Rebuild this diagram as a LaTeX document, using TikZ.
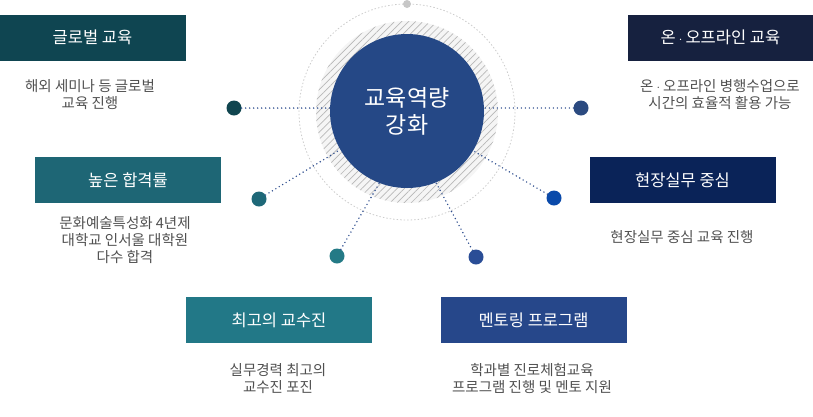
\documentclass[tikz,border=0pt]{standalone}
\usepackage{fontspec}
\setmainfont{Noto Sans CJK KR}
\usetikzlibrary{patterns.meta,calc}
\definecolor{cA}{HTML}{0F4551}
\definecolor{cB}{HTML}{16213F}
\definecolor{cC}{HTML}{1E6675}
\definecolor{cD}{HTML}{0A2358}
\definecolor{cE}{HTML}{227887}
\definecolor{cF}{HTML}{26478A}
\definecolor{dA}{HTML}{10454F}
\definecolor{dB}{HTML}{2B4A80}
\definecolor{dC}{HTML}{1E6878}
\definecolor{dD}{HTML}{0A4AAA}
\definecolor{dE}{HTML}{247A86}
\definecolor{dF}{HTML}{2A4D96}
\definecolor{core}{HTML}{254886}
\definecolor{link}{HTML}{2F4F8F}
\definecolor{desc}{HTML}{505050}
\newcommand{\mdot}{\hspace{2pt}{\fontsize{10}{10}\selectfont·}\hspace{2pt}}
\tikzset{
  titlebox/.style={fill=#1, text=white, minimum width=186pt, minimum height=46pt, inner sep=0pt, font=\fontsize{16.5}{19}\selectfont},
  desctext/.style={text=desc, align=center, inner sep=0pt, font=\fontsize{14.5}{17}\selectfont},
  enddot/.style={circle, fill=#1, minimum size=15pt, inner sep=0pt},
  link/.style={draw=link, line width=1.6pt, line cap=round, dash pattern=on 0pt off 4pt}
}
\begin{document}
\begin{tikzpicture}[x=1pt,y=-1pt]
\useasboundingbox (0,0) rectangle (813,416);
% rings
\draw[draw=black!20, line width=0.8pt, dash pattern=on 1.5pt off 2pt] (407,112) circle (108);
\node[circle, fill=black!22, minimum size=8pt, inner sep=0pt] (topdot) at (407,4) {};
\fill[black!4] (407,112) circle (91);
\fill[pattern={Lines[angle=45,distance=5pt,line width=0.7pt]}, pattern color=black!28] (407,112) circle (91);
\node[circle, fill=core, minimum size=154pt, inner sep=0pt, text=white, align=center,
  font=\fontsize{23}{27}\selectfont] (c) at (407,111) {교육역량\\강화};
% dots
\node[enddot=dA] (dL) at (234,108) {};
\node[enddot=dB] (dR) at (581,108) {};
\node[enddot=dC] (dLL) at (259,199) {};
\node[enddot=dD] (dRR) at (554,198) {};
\node[enddot=dE] (dBL) at (337,256) {};
\node[enddot=dF] (dBR) at (476,257) {};
% links
\draw[link] (dL) -- (dL -| c.west);
\draw[link] (dR) -- (dR -| c.east);
\draw[link] (dLL) -- (c.-150);
\draw[link] (dRR) -- (c.-31);
\draw[link] (dBL) -- (c.-111);
\draw[link] (dBR) -- (c.-68);
% boxes
\node[titlebox=cA] (b1) at (92.5,37.5) {글로벌 교육};
\node[desctext] (t1) at (90,95) {해외 세미나 등 글로벌\\교육 진행};
\node[titlebox=cB, minimum width=185pt] (b2) at (720.5,37.5) {온\mdot 오프라인 교육};
\node[desctext] (t2) at (720,95) {온\mdot 오프라인 병행수업으로\\시간의 효율적 활용 가능};
\node[titlebox=cC] (b3) at (128,180) {높은 합격률};
\node[desctext] (t3) at (125,240) {문화예술특성화 4년제\\대학교 인서울 대학원\\다수 합격};
\node[titlebox=cD] (b4) at (682.5,180) {현장실무 중심};
\node[desctext] (t4) at (682,237) {현장실무 중심 교육 진행};
\node[titlebox=cE] (b5) at (279,320) {최고의 교수진};
\node[desctext] (t5) at (278,378.5) {실무경력 최고의\\교수진 포진};
\node[titlebox=cF] (b6) at (533.5,320) {멘토링 프로그램};
\node[desctext] (t6) at (532,378.5) {학과별 진로체험교육\\프로그램 진행 및 멘토 지원};
\end{tikzpicture}
\end{document}
